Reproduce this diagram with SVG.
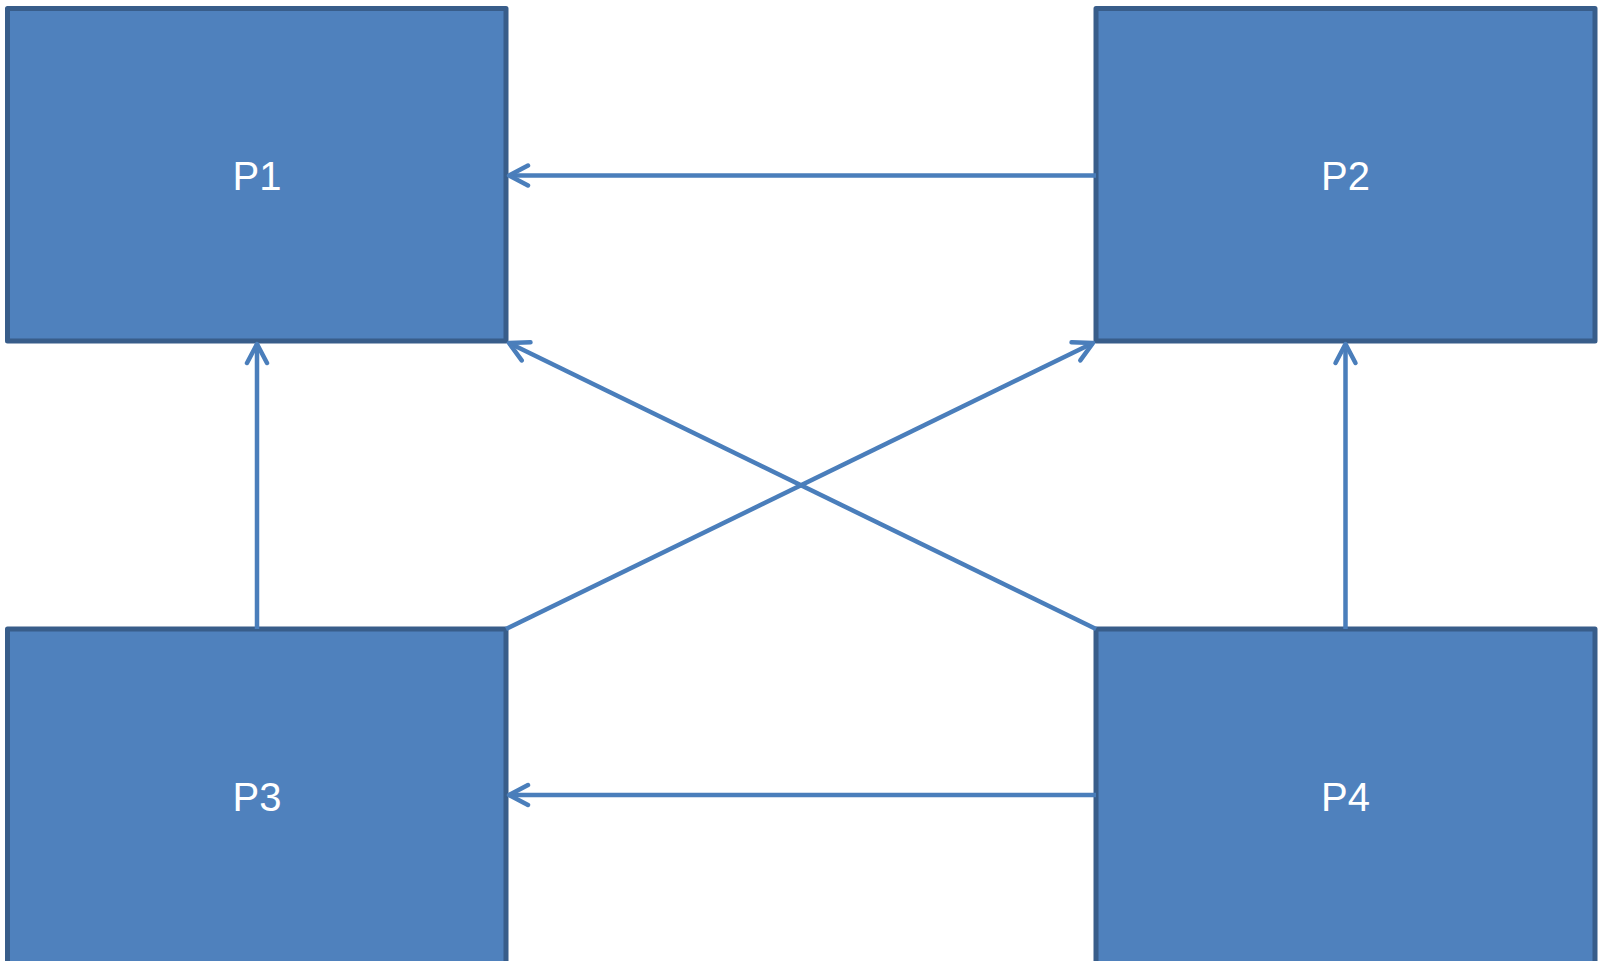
<svg xmlns="http://www.w3.org/2000/svg" width="1598" height="961" viewBox="0 0 1598 961">
<defs>
<style>
.node rect{fill:#4F81BD;stroke:#385D8A;stroke-width:5;stroke-linejoin:round}
.node text{fill:#FFFFFF;font-family:"Liberation Sans","Open Sans",sans-serif;font-size:40px;text-anchor:middle}
.edge{stroke:#4A7EBB;stroke-width:4.5;fill:none;marker-end:url(#arr)}
</style>
<marker id="arr" markerUnits="userSpaceOnUse" markerWidth="40" markerHeight="40" viewBox="-30 -20 40 40" refX="0" refY="0" orient="auto" overflow="visible">
<path d="M -19 -10 L 0 0 L -19 10" fill="none" stroke="#4A7EBB" stroke-width="4.5" stroke-linecap="round" stroke-linejoin="round"/>
</marker>
</defs>
<rect width="1598" height="961" fill="#FFFFFF"/>
<g id="P1" class="node"><rect x="7.5" y="8.5" width="498.5" height="332.5"/><text x="257" y="190">P1</text></g>
<g id="P2" class="node"><rect x="1096" y="8.5" width="499" height="332.5"/><text x="1345.5" y="190">P2</text></g>
<g id="P3" class="node"><rect x="7.5" y="629" width="498.5" height="336"/><text x="257" y="811">P3</text></g>
<g id="P4" class="node"><rect x="1096" y="629" width="499" height="336"/><text x="1345.5" y="811">P4</text></g>
<g id="connectors">
<line class="edge" x1="1096" y1="175.5" x2="509" y2="175.5"/>
<line class="edge" x1="1096" y1="795" x2="509" y2="795"/>
<line class="edge" x1="257" y1="629" x2="257" y2="344"/>
<line class="edge" x1="1345.5" y1="629" x2="1345.5" y2="344"/>
<line class="edge" x1="506" y1="629" x2="1093" y2="343"/>
<line class="edge" x1="1096" y1="629" x2="509" y2="343"/>
</g>
</svg>
